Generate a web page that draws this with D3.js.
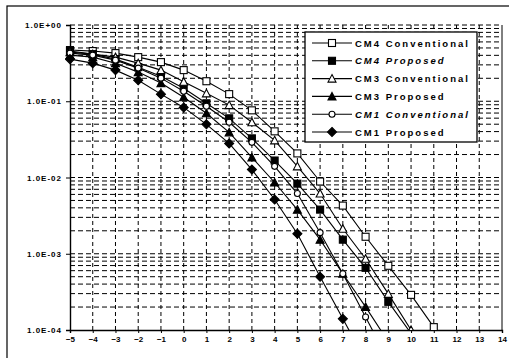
<!DOCTYPE html>
<html>
<head>
<meta charset="utf-8">
<script src="https://cdn.jsdelivr.net/npm/d3@7"></script>
<style>
  body { margin: 0; background: #fff; }
  svg { display: block; }
  text { font-family: "Liberation Sans", Arial, sans-serif; fill: #000; }
</style>
</head>
<body>
<div id="chart"></div>
<script>
// x categories (SNR, dB)
const xTicks = [-5, -4, -3, -2, -1, 0, 1, 2, 3, 4, 5, 6, 7, 8, 9, 10, 11, 12, 13, 14];
const yTicks = [1, 1e-1, 1e-2, 1e-3, 1e-4];
const yTickLabels = ["1.0E+00", "1.0E-01", "1.0E-02", "1.0E-03", "1.0E-04"];

const seriesNames = ["CM4 Conventional", "CM4 Proposed", "CM3 Conventional", "CM3 Proposed", "CM1 Conventional", "CM1 Proposed"];

// values start at x = -5
const cm4Conv = [0.469, 0.455, 0.428, 0.379, 0.326, 0.256, 0.183, 0.124, 0.076, 0.0403, 0.0207, 0.00886, 0.00428, 0.00167, 0.000695, 0.000289, 0.000109];
const cm4Prop = [0.455, 0.415, 0.357, 0.28, 0.213, 0.148, 0.094, 0.0597, 0.0326, 0.0167, 0.0083, 0.00379, 0.00153, 0.000654, 0.000234, 0.00009];
const cm3Conv = [0.441, 0.415, 0.379, 0.316, 0.256, 0.18, 0.127, 0.089, 0.053, 0.0307, 0.014, 0.00616, 0.00213, 0.00086, 0.000298, 0.0001];
const cm3Prop = [0.403, 0.379, 0.316, 0.241, 0.173, 0.113, 0.0695, 0.0391, 0.0183, 0.0086, 0.00379, 0.00153, 0.000546, 0.000201, 0.00007];
const cm1Conv = [0.428, 0.403, 0.346, 0.272, 0.201, 0.135, 0.086, 0.053, 0.0289, 0.014, 0.00616, 0.00189, 0.000546, 0.000148, 0.00004];
const cm1Prop = [0.357, 0.316, 0.256, 0.189, 0.124, 0.083, 0.0498, 0.028, 0.0127, 0.00514, 0.00183, 0.000498, 0.00014, 0.00004];

const allValues = [cm4Conv, cm4Prop, cm3Conv, cm3Prop, cm1Conv, cm1Prop];
const markerKinds = ["squareOpen", "squareFilled", "triOpen", "triFilled", "circleOpen", "diamondFilled"];
const italicLegend = [false, true, false, false, true, false];

const width = 509;
const height = 358;
const margin = { left: 70, right: 7, top: 25, bottom: 28 };

const svg = d3.select("#chart")
  .append("svg")
  .attr("width", width)
  .attr("height", height);

// outer frame of the chart (scan shows only top and left)
svg.append("rect")
  .attr("x", 7).attr("y", 6)
  .attr("width", 520).attr("height", 380)
  .attr("fill", "none")
  .attr("stroke", "#000")
  .attr("stroke-width", 1.2);

const x = d3.scaleLinear()
  .domain([-5, 14])
  .range([margin.left, width - margin.right]);

const y = d3.scaleLog()
  .domain([1e-4, 1])
  .range([height - margin.bottom, margin.top]);

const plot = svg.append("g");

// GRIDLINES
const minorVals = [];
for (let e = -4; e < 0; e++) {
  for (let m = 1; m <= 9; m++) minorVals.push(m * Math.pow(10, e));
}
minorVals.push(1);

plot.append("g")
  .selectAll("line")
  .data(minorVals.filter(v => v > 1e-4))
  .enter()
  .append("line")
  .attr("x1", x(-5))
  .attr("x2", x(14))
  .attr("y1", d => y(d))
  .attr("y2", d => y(d))
  .attr("stroke", "#000")
  .attr("stroke-width", 1)
  .attr("stroke-dasharray", "5,3");

plot.append("g")
  .selectAll("line")
  .data(xTicks.filter(d => d > -5 && d < 14))
  .enter()
  .append("line")
  .attr("x1", d => x(d))
  .attr("x2", d => x(d))
  .attr("y1", y(1e-4))
  .attr("y2", y(1))
  .attr("stroke", "#000")
  .attr("stroke-width", 1)
  .attr("stroke-dasharray", "4,3");

// right border of plot
plot.append("line")
  .attr("x1", x(14)).attr("x2", x(14))
  .attr("y1", y(1)).attr("y2", y(1e-4))
  .attr("stroke", "#000").attr("stroke-width", 1);

// AXES
const yAxis = d3.axisLeft(y)
  .tickValues(yTicks)
  .tickFormat((d, i) => yTickLabels[i])
  .tickSize(4)
  .tickPadding(4);

const yg = svg.append("g")
  .attr("transform", `translate(${margin.left},0)`)
  .call(yAxis);
yg.select(".domain").attr("stroke-width", 1.4);
yg.selectAll("text")
  .style("font-size", "8px")
  .style("font-weight", "bold")
  .style("letter-spacing", "1px")
  .style("font-family", "'Liberation Sans', Arial, sans-serif");

const xAxis = d3.axisBottom(x)
  .tickValues(xTicks)
  .tickFormat(d3.format("d"))
  .tickSize(3)
  .tickPadding(3);

const xg = svg.append("g")
  .attr("transform", `translate(0,${height - margin.bottom})`)
  .call(xAxis);
xg.select(".domain").attr("stroke-width", 1.4);
xg.selectAll("text")
  .style("font-size", "8px")
  .style("font-weight", "bold")
  .style("font-family", "'Liberation Sans', Arial, sans-serif");

// CLIP
svg.append("defs").append("clipPath")
  .attr("id", "plot-clip")
  .append("rect")
  .attr("x", x(-5) - 5).attr("y", y(1))
  .attr("width", x(14) - x(-5) + 5)
  .attr("height", y(1e-4) - y(1));

const line = d3.line()
  .x(d => x(d.x))
  .y(d => y(d.v));

function seriesPoints(vals) {
  return vals.map((v, i) => ({ x: xTicks[0] + i, v: v }));
}

// MARKERS
function drawMarker(g, kind, cx, cy, s) {
  const h = s / 2;
  const filled = kind.indexOf("Filled") >= 0;
  const fill = filled ? "#000" : "#fff";
  if (kind.startsWith("square")) {
    g.append("rect")
      .attr("x", cx - h).attr("y", cy - h)
      .attr("width", s).attr("height", s)
      .attr("fill", fill).attr("stroke", "#000").attr("stroke-width", 1.1);
  } else if (kind.startsWith("tri")) {
    g.append("path")
      .attr("d", `M${cx},${cy - h - 0.5}L${cx + h + 0.5},${cy + h}L${cx - h - 0.5},${cy + h}Z`)
      .attr("fill", fill).attr("stroke", "#000").attr("stroke-width", 1.1);
  } else if (kind.startsWith("circle")) {
    g.append("circle")
      .attr("cx", cx).attr("cy", cy).attr("r", h - 0.5)
      .attr("fill", fill).attr("stroke", "#000").attr("stroke-width", 1.1);
  } else {
    g.append("path")
      .attr("d", `M${cx},${cy - h - 1}L${cx + h + 1},${cy}L${cx},${cy + h + 1}L${cx - h - 1},${cy}Z`)
      .attr("fill", fill).attr("stroke", "#000").attr("stroke-width", 1.1);
  }
}

const lines = svg.append("g").attr("clip-path", "url(#plot-clip)");

allValues.forEach((vals, k) => {
  const pts = seriesPoints(vals);
  lines.append("path")
    .datum(pts)
    .attr("d", line)
    .attr("fill", "none")
    .attr("stroke", "#000")
    .attr("stroke-width", 1.1);
});

allValues.forEach((vals, k) => {
  const pts = seriesPoints(vals).filter(d => d.v >= 1e-4);
  pts.forEach(d => drawMarker(lines, markerKinds[k], x(d.x), y(d.v), 7));
});

// LEGEND
const legend = svg.append("g").attr("transform", "translate(305,32)");

legend.append("rect")
  .attr("width", 172)
  .attr("height", 110)
  .attr("fill", "#fff")
  .attr("stroke", "#000")
  .attr("stroke-width", 1.3);

seriesNames.forEach((name, i) => {
  const ly = 11 + i * 17.8;
  legend.append("line")
    .attr("x1", 7).attr("x2", 47)
    .attr("y1", ly).attr("y2", ly)
    .attr("stroke", "#000").attr("stroke-width", 1.1);
  drawMarker(legend, markerKinds[i], 27, ly, 7);
  legend.append("text")
    .attr("x", 50)
    .attr("y", ly + 3.5)
    .style("font-size", "9.5px")
    .style("font-weight", "bold")
    .style("font-style", italicLegend[i] ? "italic" : "normal")
    .style("letter-spacing", "2px")
    .text(name);
});
</script>
</body>
</html>
